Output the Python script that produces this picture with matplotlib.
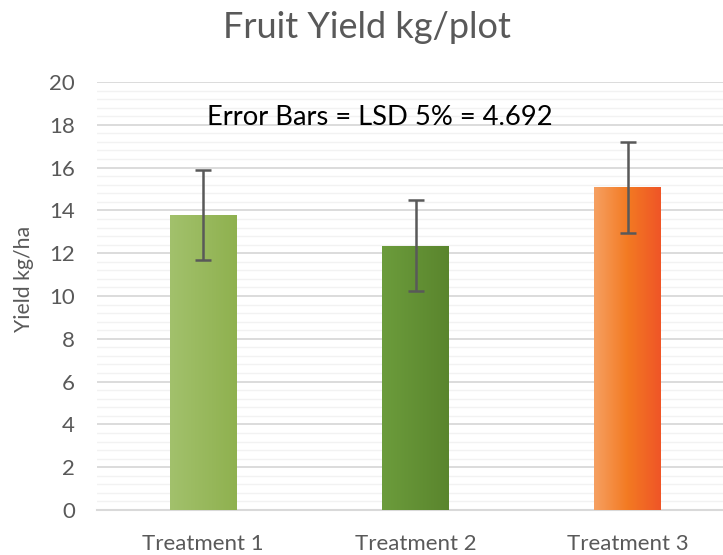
import numpy as np
import matplotlib
matplotlib.use('Agg')
import matplotlib.pyplot as plt
from matplotlib.colors import LinearSegmentedColormap

treatments = ['Treatment 1', 'Treatment 2', 'Treatment 3']
yields = [13.78, 12.35, 15.08]
errors = [2.12, 2.12, 2.12]
yticks = list(range(0, 21, 2))

# left -> right gradient colours for each bar
gradients = [
    ['#A2C16C', '#8FB14F'],
    ['#6C9C3C', '#5A852D'],
    ['#F6A062', '#F37A22', '#EF5527'],
]

plt.rcParams['font.family'] = ['Lato', 'DejaVu Sans']
grey = '#595959'

fig = plt.figure(figsize=(7.23, 5.55), dpi=100)
ax = fig.add_axes([97 / 723, 45 / 555, 637 / 723, 428 / 555])

x = np.arange(len(treatments))
bars = ax.bar(x, yields, width=0.315, color='none', zorder=3)

grad = np.linspace(0, 1, 256).reshape(1, -1)
for bar, cols in zip(bars, gradients):
    cmap = LinearSegmentedColormap.from_list('g', cols)
    bx, by = bar.get_x(), bar.get_y()
    im = ax.imshow(grad, cmap=cmap, aspect='auto', zorder=3,
                   extent=[bx, bx + bar.get_width(), by, by + bar.get_height()])
    im.set_clip_path(bar)

ax.errorbar(x, yields, yerr=errors, fmt='none', ecolor=grey, elinewidth=1.8,
            capsize=6, capthick=1.8, zorder=4)

ax.set_xlim(-0.5, 2.5)
ax.set_ylim(0, 20)
ax.set_yticks(yticks)
ax.set_yticks(np.arange(0, 20.01, 0.4), minor=True)
ax.set_xticks(x)
ax.set_xticklabels(treatments)
ax.tick_params(axis='both', length=0, colors=grey, labelsize=16)
ax.tick_params(axis='x', pad=17)
ax.tick_params(axis='y', pad=16)
ax.tick_params(which='minor', length=0)

ax.grid(axis='y', which='major', color='#D9D9D9', lw=1.3, zorder=0)
ax.grid(axis='y', which='minor', color='#F2F2F2', lw=1.0, zorder=0)
for s in ['top', 'right', 'left']:
    ax.spines[s].set_visible(False)
ax.spines['bottom'].set_color('#D9D9D9')
ax.spines['bottom'].set_linewidth(1.5)

ax.set_ylabel('Yield kg/ha', color=grey, fontsize=15.3)
ax.yaxis.set_label_coords(-63 / 637, 0.54)
fig.text(367 / 723, 1 - 28 / 555, 'Fruit Yield kg/plot', ha='center', va='center',
         color=grey, fontsize=26)
ax.text(0.833, 18.35, 'Error Bars = LSD 5% = 4.692', ha='center', va='center',
        color='black', fontsize=19.7, zorder=5)

fig.savefig('out.png', dpi=100)
